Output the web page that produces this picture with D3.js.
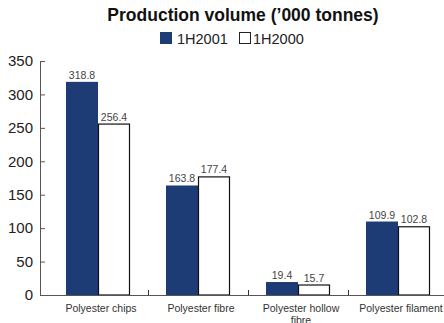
<!DOCTYPE html>
<html><head><meta charset="utf-8">
<script src="https://cdn.jsdelivr.net/npm/d3@7"></script>
<style>
html,body{margin:0;padding:0;background:#fff;}
svg{display:block;font-family:"Liberation Sans",Arial,Helvetica,sans-serif;}
</style></head>
<body>
<svg id="c" width="444" height="323"></svg>
<script>
const titleText = "Production volume (\u2019000 tonnes)";
const categories = ["Polyester chips", "Polyester fibre", "Polyester hollow fibre", "Polyester filament"];
const categoryLines = [["Polyester chips"], ["Polyester fibre"], ["Polyester hollow", "fibre"], ["Polyester filament"]];
const seriesNames = ["1H2001", "1H2000"];
const values1H2001 = [318.8, 163.8, 19.4, 109.9];
const values1H2000 = [256.4, 177.4, 15.7, 102.8];
const yTicks = [0, 50, 100, 150, 200, 250, 300, 350];

const svg = d3.select("#c");
const blue = "#1d3b74";
const x0 = 40, yBottom = 295, yTop = 61;

const x = d3.scaleBand().domain(categories).range([48, 448]).padding(0);
const xs = d3.scaleBand().domain(seriesNames).range([0, x.bandwidth()]).paddingInner(0).paddingOuter(0.5625);
const y = d3.scaleLinear().domain([0, 350]).range([yBottom, yTop]);

// title
svg.append("text").attr("x", 243).attr("y", 21).attr("text-anchor", "middle")
  .attr("font-size", 17.5).attr("font-weight", "bold").attr("fill", "#111").text(titleText);

// legend
const leg = svg.append("g");
const legItems = [{name: seriesNames[0], fill: blue, x: 160, gap: 17}, {name: seriesNames[1], fill: "#fff", x: 239, gap: 14}];
legItems.forEach(d => {
  leg.append("rect").attr("x", d.x + 0.5).attr("y", 32.5).attr("width", 11).attr("height", 11)
    .attr("fill", d.fill).attr("stroke", d.fill === "#fff" ? "#222" : blue).attr("stroke-width", 1);
  leg.append("text").attr("x", d.x + d.gap).attr("y", 44).attr("font-size", 14.5).attr("fill", "#222").text(d.name);
});

// y axis
const yAxis = d3.axisLeft(y).tickValues(yTicks).tickSize(-5).tickPadding(7);
const gy = svg.append("g").attr("transform", `translate(${x0},0)`).call(yAxis);
gy.select(".domain").remove();
gy.selectAll(".tick line").attr("stroke", "#555");
gy.selectAll(".tick text").attr("font-size", 15).attr("fill", "#222").attr("font-family", null);
svg.append("line").attr("x1", x0 + 0.5).attr("x2", x0 + 0.5).attr("y1", y(350)).attr("y2", yBottom)
  .attr("stroke", "#555");

// bars
const data = categories.map((c, i) => ({cat: c, vals: [values1H2001[i], values1H2000[i]]}));
const groups = svg.append("g").selectAll("g").data(data).join("g")
  .attr("transform", d => `translate(${x(d.cat)},0)`);
groups.selectAll("rect").data(d => d.vals.map((v, j) => ({s: seriesNames[j], v}))).join("rect")
  .attr("x", d => xs(d.s) + (d.s === seriesNames[1] ? 0.5 : 0))
  .attr("y", d => y(d.v) + (d.s === seriesNames[1] ? 0.5 : 0))
  .attr("width", d => xs.bandwidth() - (d.s === seriesNames[1] ? 1 : 0))
  .attr("height", d => yBottom - y(d.v) - (d.s === seriesNames[1] ? 0.5 : 0))
  .attr("fill", d => d.s === seriesNames[0] ? blue : "#fff")
  .attr("stroke", d => d.s === seriesNames[0] ? "none" : "#111")
  .attr("stroke-width", 1.2);
groups.selectAll("text.v").data(d => d.vals.map((v, j) => ({s: seriesNames[j], v}))).join("text")
  .attr("class", "v")
  .attr("x", d => xs(d.s) + xs.bandwidth() / 2)
  .attr("y", d => y(d.v) - 3)
  .attr("text-anchor", "middle").attr("font-size", 10.5).attr("fill", "#444")
  .text(d => d.v.toFixed(1));

// x axis
svg.append("line").attr("x1", x0).attr("x2", 444).attr("y1", yBottom + 0.5).attr("y2", yBottom + 0.5)
  .attr("stroke", "#555").attr("stroke-width", 1.2);
categories.slice(1).forEach(c => {
  svg.append("line").attr("x1", x(c) + 0.5).attr("x2", x(c) + 0.5).attr("y1", yBottom).attr("y2", yBottom - 5)
    .attr("stroke", "#333");
});
data.forEach((d, i) => {
  const t = svg.append("text").attr("text-anchor", "middle").attr("font-size", 10.5).attr("fill", "#333");
  categoryLines[i].forEach((ln, k) => {
    t.append("tspan").attr("x", x(d.cat) + x.bandwidth() / 2 + 3).attr("y", 312 + k * 11.5).text(ln);
  });
});
</script>
</body></html>
